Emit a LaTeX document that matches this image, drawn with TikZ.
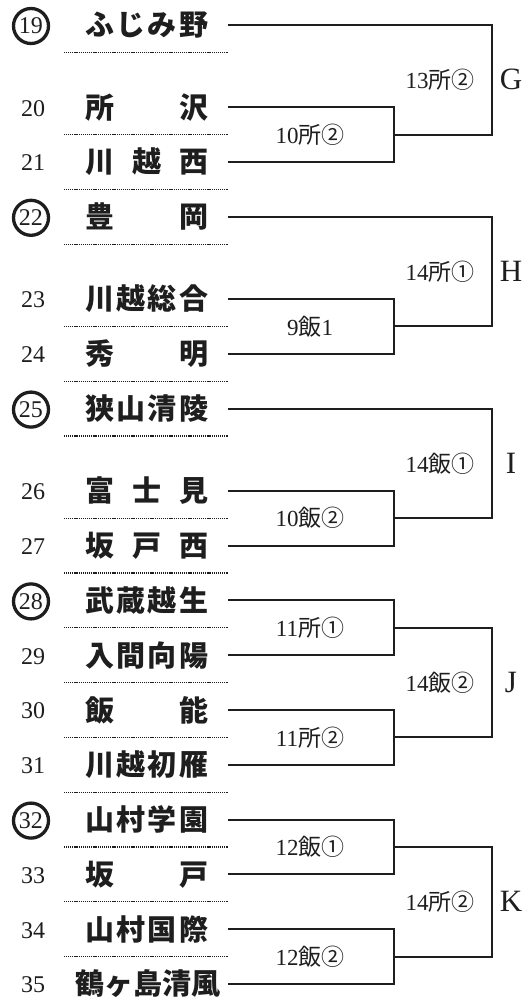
\documentclass[tikz,border=0pt]{standalone}
\usepackage{fontspec}
\setmainfont{Liberation Serif}
\newfontfamily\jpfont{Noto Sans CJK JP}
\usepackage{tikz}
\usetikzlibrary{calc,positioning}
\definecolor{ink}{HTML}{1E1E1E}
\tikzset{
  Bracket/.style={draw=ink, line width=1.9pt, line join=miter},
  DotRule/.style={draw=ink, line width=1.3pt, dash pattern=on 1.1pt off 0.8pt},
  TeamName/.style={anchor=west, inner sep=0pt, text=ink,
    font=\jpfont\bfseries\fontsize{29}{29}\selectfont},
  Num/.style={inner sep=0pt, text=ink, font=\fontsize{24}{24}\selectfont},
  Seed/.style={circle, draw=ink, line width=3.3pt, minimum size=35pt, xshift=-2pt},
  Score/.style={inner sep=0pt, text=ink, font=\fontsize{23}{23}\selectfont},
  Block/.style={inner sep=0pt, text=ink, font=\fontsize{31}{31}\selectfont}
}
% y of a row slot (rows and rules alternate every 27.4pt)
\newcommand{\SlotY}[1]{25+27.4*#1}
\newcommand{\TeamRow}[4][]{%
  % #1 = extra style for the number (Seed), #2 = number, #3 = slot, #4 = name
  \node[Num,#1] (n#2) at (33,{\SlotY{#3}+1}) {#2};
  \node[TeamName] (t#2) at (85,{\SlotY{#3}}) {\makebox[123pt][s]{#4}};
  \coordinate (e#2) at (228,{\SlotY{#3}});
}
\newcommand{\DotLine}[1]{%
  \draw[DotRule] (64,{\SlotY{#1}}) -- (228,{\SlotY{#1}});
}

\begin{document}
\begin{tikzpicture}[x=1pt, y=-1pt, line cap=butt]
  \fill[white] (0,0) rectangle (531,1007);
  \useasboundingbox (0,0) rectangle (531,1007);

  % block G
  \TeamRow[Seed]{19}{0}{ふ\hfill じ\hfill み\hfill 野}
  \DotLine{1}
  \TeamRow{20}{3}{所\hfill 沢}
  \DotLine{4}
  \TeamRow{21}{5}{川\hfill 越\hfill 西}
  \DotLine{6}
  \coordinate (m20) at (394,{\SlotY{4}});
  \coordinate (fG) at (492,{\SlotY{2}});
  \draw[Bracket] (e20) -| (m20) |- (e21);
  \draw[Bracket] (e19) -| (fG) |- (m20);
  \node[Score] (s20) at (310,{\SlotY{4}}) {10{\jpfont 所②}};
  \node[Score] (sG) at (440,{\SlotY{2}}) {13{\jpfont 所②}};
  \node[Block] (G) at (511,{\SlotY{2}}) {G};

  % block H
  \TeamRow[Seed]{22}{7}{豊\hfill 岡}
  \DotLine{8}
  \TeamRow{23}{10}{川\hfill 越\hfill 総\hfill 合}
  \DotLine{11}
  \TeamRow{24}{12}{秀\hfill 明}
  \DotLine{13}
  \coordinate (m23) at (394,{\SlotY{11}});
  \coordinate (fH) at (492,{\SlotY{9}});
  \draw[Bracket] (e23) -| (m23) |- (e24);
  \draw[Bracket] (e22) -| (fH) |- (m23);
  \node[Score] (s23) at (310,{\SlotY{11}}) {9{\jpfont 飯}1};
  \node[Score] (sH) at (440,{\SlotY{9}}) {14{\jpfont 所①}};
  \node[Block] (H) at (511,{\SlotY{9}}) {H};

  % block I
  \TeamRow[Seed]{25}{14}{狭\hfill 山\hfill 清\hfill 陵}
  \DotLine{15}
  \TeamRow{26}{17}{富\hfill 士\hfill 見}
  \DotLine{18}
  \TeamRow{27}{19}{坂\hfill 戸\hfill 西}
  \DotLine{20}
  \coordinate (m26) at (394,{\SlotY{18}});
  \coordinate (fI) at (492,{\SlotY{16}});
  \draw[Bracket] (e26) -| (m26) |- (e27);
  \draw[Bracket] (e25) -| (fI) |- (m26);
  \node[Score] (s26) at (310,{\SlotY{18}}) {10{\jpfont 飯②}};
  \node[Score] (sI) at (440,{\SlotY{16}}) {14{\jpfont 飯①}};
  \node[Block] (I) at (511,{\SlotY{16}}) {I};

  % block J
  \TeamRow[Seed]{28}{21}{武\hfill 蔵\hfill 越\hfill 生}
  \DotLine{22}
  \TeamRow{29}{23}{入\hfill 間\hfill 向\hfill 陽}
  \DotLine{24}
  \TeamRow{30}{25}{飯\hfill 能}
  \DotLine{26}
  \TeamRow{31}{27}{川\hfill 越\hfill 初\hfill 雁}
  \DotLine{28}
  \coordinate (m28) at (394,{\SlotY{22}});
  \coordinate (m30) at (394,{\SlotY{26}});
  \coordinate (fJ) at (492,{\SlotY{24}});
  \draw[Bracket] (e28) -| (m28) |- (e29);
  \draw[Bracket] (e30) -| (m30) |- (e31);
  \draw[Bracket] (m28) -| (fJ) |- (m30);
  \node[Score] (s28) at (310,{\SlotY{22}}) {11{\jpfont 所①}};
  \node[Score] (s30) at (310,{\SlotY{26}}) {11{\jpfont 所②}};
  \node[Score] (sJ) at (440,{\SlotY{24}}) {14{\jpfont 飯②}};
  \node[Block] (J) at (511,{\SlotY{24}}) {J};

  % block K
  \TeamRow[Seed]{32}{29}{山\hfill 村\hfill 学\hfill 園}
  \DotLine{30}
  \TeamRow{33}{31}{坂\hfill 戸}
  \DotLine{32}
  \TeamRow{34}{33}{山\hfill 村\hfill 国\hfill 際}
  \DotLine{34}
  \node[Num] (n35) at (33,{\SlotY{35}+1}) {35};
  \node[TeamName] (t35) at (75,{\SlotY{35}}) {\makebox[143pt][s]{鶴\hfill ヶ\hfill 島\hfill 清\hfill 風}};
  \coordinate (e35) at (228,{\SlotY{35}});
  \coordinate (m32) at (394,{\SlotY{30}});
  \coordinate (m34) at (394,{\SlotY{34}});
  \coordinate (fK) at (492,{\SlotY{32}});
  \draw[Bracket] (e32) -| (m32) |- (e33);
  \draw[Bracket] (e34) -| (m34) |- (e35);
  \draw[Bracket] (m32) -| (fK) |- (m34);
  \node[Score] (s32) at (310,{\SlotY{30}}) {12{\jpfont 飯①}};
  \node[Score] (s34) at (310,{\SlotY{34}}) {12{\jpfont 飯②}};
  \node[Score] (sK) at (440,{\SlotY{32}}) {14{\jpfont 所②}};
  \node[Block] (K) at (511,{\SlotY{32}}) {K};
\end{tikzpicture}
\end{document}
